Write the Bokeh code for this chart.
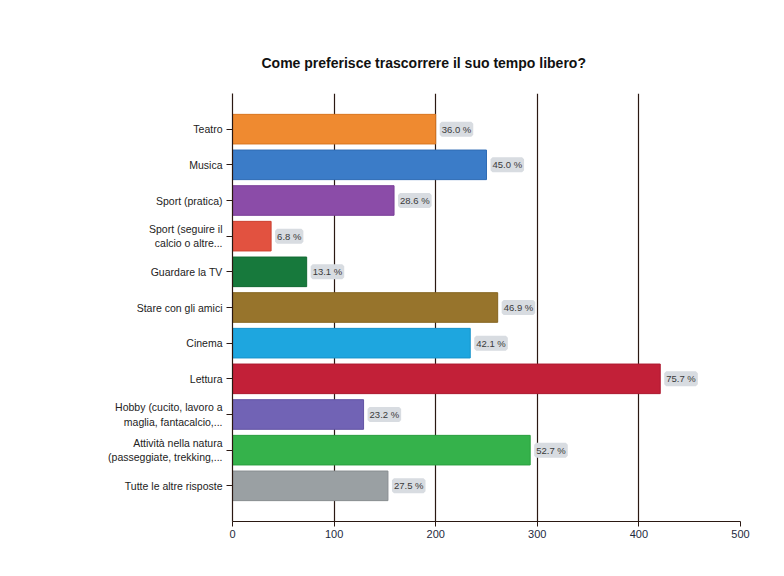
from bokeh.plotting import figure
from bokeh.models import ColumnDataSource, LabelSet, FixedTicker, Range1d
from bokeh.core.properties import value
from bokeh.embed import file_html
from bokeh.resources import INLINE

categories = ["Teatro", "Musica", "Sport (pratica)", "Sport (seguire il\ncalcio o altre...",
              "Guardare la TV", "Stare con gli amici", "Cinema", "Lettura",
              "Hobby (cucito, lavoro a\nmaglia, fantacalcio,...",
              "Attività nella natura\n(passeggiate, trekking,...", "Tutte le altre risposte"]
counts = [200, 250, 159, 38, 73, 261, 234, 421, 129, 293, 153]
percent_labels = ["36.0 %", "45.0 %", "28.6 %", "6.8 %", "13.1 %", "46.9 %",
                  "42.1 %", "75.7 %", "23.2 %", "52.7 %", "27.5 %"]
colors = ["#ef8a30", "#3b7cc8", "#8b4ca8", "#e25240", "#17793c", "#97742c",
          "#1ea6df", "#c22038", "#7163b5", "#35b24b", "#9aa0a3"]
edge_colors = ["#d9761f", "#2f6cb5", "#7a3e98", "#cc4232", "#116a32", "#85641f",
               "#1693cb", "#ad1a30", "#6253a3", "#2a9e3f", "#888e91"]
x_ticks = [0, 100, 200, 300, 400, 500]
title_text = "Come preferisce trascorrere il suo tempo libero?"

n = len(categories)
ypos = [n - i for i in range(n)]
src = ColumnDataSource(dict(y=ypos, v=counts, c=colors, e=edge_colors, lab=percent_labels))

p = figure(width=768, height=560, output_backend="svg", toolbar_location=None,
           x_range=Range1d(0, 500), y_range=Range1d(0, n + 1),
           min_border_left=232, min_border_right=28, min_border_top=93, min_border_bottom=39,
           title=title_text)
p.outline_line_color = None
p.background_fill_color = "white"
p.border_fill_color = "white"

p.title.align = "left"
p.title.offset = 29
p.title.standoff = 45
p.title.text_font = "Liberation Sans"
p.title.text_font_style = "bold"
p.title.text_font_size = "14px"
p.title.text_color = "#111111"

p.hbar(y="y", right="v", left=0, height=0.83, fill_color="c", line_color="e", line_width=1, source=src)

labels = LabelSet(x="v", y="y", text="lab", source=src, x_offset=6, text_baseline="middle",
                  text_font=value("Liberation Sans"), text_font_size="9.5px", text_color="#3a3a3a",
                  background_fill_color="#d8dce1", border_line_color="#d8dce1", border_line_width=4)
p.add_layout(labels)

grid_col = "#2a1812"
p.xgrid.ticker = FixedTicker(ticks=x_ticks)
p.xgrid.grid_line_color = grid_col
p.xgrid.grid_line_width = 1.2
p.ygrid.grid_line_color = None

p.xaxis.ticker = FixedTicker(ticks=x_ticks)
p.xaxis.axis_line_color = grid_col
p.xaxis.axis_line_width = 1.2
p.xaxis.major_tick_line_color = grid_col
p.xaxis.major_tick_out = 5
p.xaxis.major_tick_in = 0
p.xaxis.minor_tick_line_color = None
p.xaxis.major_label_text_font = "Liberation Sans"
p.xaxis.major_label_text_font_size = "11px"
p.xaxis.major_label_text_color = "#1e2a40"
p.xaxis.major_label_standoff = 3

p.yaxis.ticker = FixedTicker(ticks=ypos)
p.yaxis.major_label_overrides = {y: c for y, c in zip(ypos, categories)}
p.yaxis.axis_line_color = grid_col
p.yaxis.axis_line_width = 1.2
p.yaxis.major_tick_line_color = grid_col
p.yaxis.major_tick_out = 6
p.yaxis.major_tick_in = 0
p.yaxis.minor_tick_line_color = None
p.yaxis.major_label_text_font = "Liberation Sans"
p.yaxis.major_label_text_font_size = "10.5px"
p.yaxis.major_label_text_color = "#222222"
p.yaxis.major_label_standoff = 4
p.yaxis.major_label_text_align = "right"

open("out.html", "w").write(file_html(p, INLINE))
